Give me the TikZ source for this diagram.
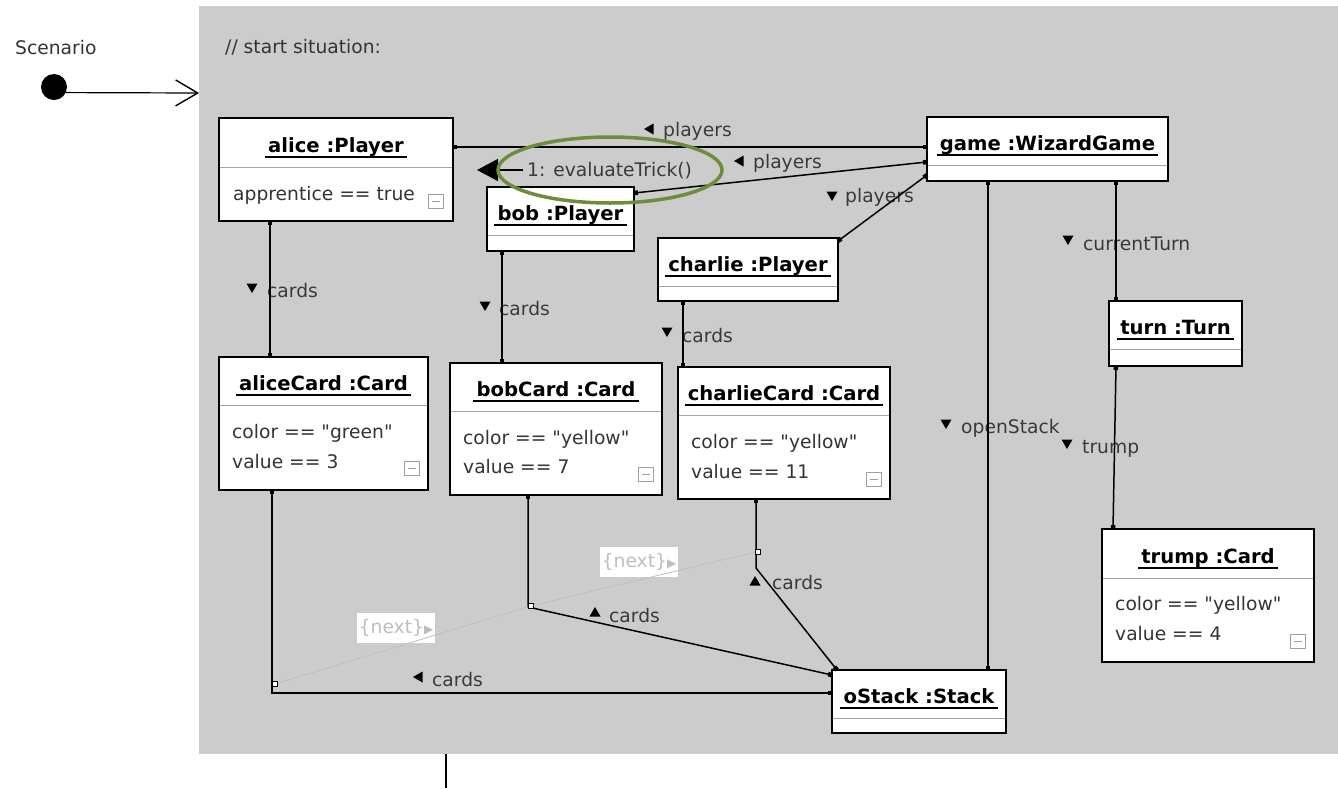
\documentclass[tikz,border=0pt]{standalone}
\usepackage{fontspec}
\setmainfont{DejaVu Sans}
\usetikzlibrary{arrows.meta}

\definecolor{framegray}{RGB}{204,204,204}
\definecolor{attrgray}{RGB}{52,52,52}
\definecolor{lblgray}{RGB}{58,58,58}
\definecolor{divgray}{RGB}{165,165,165}
\definecolor{icongray}{RGB}{160,160,160}
\definecolor{nextgray}{RGB}{190,190,190}
\definecolor{msggreen}{RGB}{110,140,60}

\tikzset{
  objframe/.style={draw=black, line width=1.6pt, fill=white, inner sep=0pt, outer sep=0pt, anchor=north west},
  divline/.style={draw=divgray, line width=0.9pt},
  objtitle/.style={font=\fontsize{19.6}{22}\selectfont\bfseries, anchor=base, inner xsep=3pt, inner ysep=0pt, text=black},
  uline/.style={line width=1.6pt},
  attr/.style={anchor=base west, inner sep=0pt, text=attrgray},
  lbl/.style={anchor=base west, inner sep=0pt, text=lblgray},
  link/.style={line width=1.5pt, {Square[length=4pt,width=4.5pt]}-{Square[length=4pt,width=4.5pt]}},
  nextlink/.style={draw=nextgray, line width=0.8pt},
  nextbox/.style={fill=white, text=nextgray, inner sep=0pt, minimum width=78pt, minimum height=30pt},
  joint/.style={draw=black, fill=white, line width=0.8pt, minimum size=5pt, inner sep=0pt},
  icon/.style={draw=icongray, line width=0.9pt},
}

% object box: name, left, top, right, bottom, divider y, title
\newcommand\umlobject[7]{%
  \node[objframe, minimum width={(#4-#2)*1pt}, minimum height={(#5-#3)*1pt}] (#1) at (#2,#3) {};
  \draw[divline] ({#2+1},#6) -- ({#4-1},#6);
  \node[objtitle] (#1-title) at ({(#2+#4)/2},{#6-15}) {#7};
  \draw[uline] ([yshift=-5pt]#1-title.base west) -- ([yshift=-5pt]#1-title.base east);
}
% collapse handle in the corner of an object box
\newcommand\collapser[2]{%
  \draw[icon] ({#1-7.5},{#2-7}) rectangle ({#1+7.5},{#2+7});
  \draw[icon] ({#1-4},#2) -- ({#1+4},#2);
}
% reading-direction triangles of role labels
\newcommand\roletridown[2]{\fill ({#1-5.5},{#2-4.5}) -- ({#1+5.5},{#2-4.5}) -- (#1,{#2+5}) -- cycle;}
\newcommand\roletriup[2]{\fill ({#1-5.5},{#2+4.5}) -- ({#1+5.5},{#2+4.5}) -- (#1,{#2-5}) -- cycle;}
\newcommand\roletrileft[2]{\fill ({#1+4.5},{#2-5.5}) -- ({#1+4.5},{#2+5.5}) -- ({#1-5},#2) -- cycle;}
\newcommand\qq[1]{\textquotedbl#1\textquotedbl}

\begin{document}
\begin{tikzpicture}[x=1pt, y=-1pt, every node/.style={font=\fontsize{18.7}{22}\selectfont}]
\useasboundingbox (0,0) rectangle (1338,788);

% activity frame
\node[fill=framegray, inner sep=0pt, outer sep=0pt, minimum width=1139pt, minimum height=748pt, anchor=north west] (situation) at (199,6) {};
\node[lbl, text=attrgray] (comment) at (225,53) {// start situation:};

% initial node
\node[lbl, text=attrgray] (scenario) at (15,54) {Scenario};
\node[circle, fill=black, minimum size=26pt, inner sep=0pt] (start) at (54,87) {};
\draw[line width=1.2pt, -{Straight Barb[length=22pt,width=26pt,line width=1.4pt]}] (start.-25) -- (situation.west |- 0,93);
\coordinate (exit) at (446,788);
\draw[line width=1.5pt] (situation.south -| exit) -- (exit);

% objects
\umlobject{alice}{219}{118}{453}{221}{167}{alice :Player}
\umlobject{bob}{487}{187}{634}{251}{235}{bob :Player}
\umlobject{charlie}{658}{238}{838}{301}{286}{charlie :Player}
\umlobject{game}{927}{117}{1168}{181}{165}{game :WizardGame}
\umlobject{turn}{1109}{301}{1242}{366}{349}{turn :Turn}
\umlobject{aliceCard}{219}{357}{428}{490}{405}{aliceCard :Card}
\umlobject{bobCard}{450}{363}{662}{495}{411}{bobCard :Card}
\umlobject{charlieCard}{678}{367}{890}{499}{415}{charlieCard :Card}
\umlobject{trump}{1102}{529}{1314}{662}{578}{trump :Card}
\umlobject{oStack}{832}{670}{1006}{733}{718}{oStack :Stack}

% attributes
\node[attr] at (233,200) {apprentice == true};
\node[attr] at (232,438) {color == \qq{green}};
\node[attr] at (232,468) {value == 3};
\node[attr] at (463,444) {color == \qq{yellow}};
\node[attr] at (463,473) {value == 7};
\node[attr] at (691,448) {color == \qq{yellow}};
\node[attr] at (691,478) {value == 11};
\node[attr] at (1115,610) {color == \qq{yellow}};
\node[attr] at (1115,640) {value == 4};

\collapser{436}{201}
\collapser{412}{468}
\collapser{646}{474}
\collapser{874}{479}
\collapser{1298}{641}

% role labels
\roletrileft{649}{129}  \node[lbl] at (663,136) {players};
\roletrileft{739}{161}  \node[lbl] at (753,168) {players};
\roletridown{832}{196}  \node[lbl] at (845,202) {players};
\roletridown{252}{288}  \node[lbl] at (267,297) {cards};
\roletridown{485}{306}  \node[lbl] at (499,315) {cards};
\roletridown{667}{332}  \node[lbl] at (682,342) {cards};
\roletridown{1068}{240} \node[lbl] at (1083,250) {currentTurn};
\roletridown{946}{424}  \node[lbl] at (961,433) {openStack};
\roletridown{1067}{444} \node[lbl] at (1082,453) {trump};
\roletriup{595}{612}    \node[lbl] at (609,622) {cards};
\roletriup{755}{581}    \node[lbl] at (772,589) {cards};
\roletrileft{418}{677}  \node[lbl] at (432,686) {cards};

% links
\draw[link] (alice.east |- 0,147) -- (game.west |- 0,147);
\draw[link] (bob.east |- 0,193) -- (game.west |- 0,162);
\draw[link] (charlie.east |- 0,241) -- (game.west |- 0,175);
\draw[link] (alice.south -| 270,0) -- (aliceCard.north -| 270,0);
\draw[link] (bob.south -| 502,0) -- (bobCard.north -| 502,0);
\draw[link] (charlie.south -| 683,0) -- (charlieCard.north -| 683,0);
\draw[link] (game.south -| 1116,0) -- (turn.north -| 1116,0);
\draw[link] (turn.south -| 1116,0) -- (trump.north -| 1113,0);
\draw[link] (game.south -| 988,0) -- (oStack.north -| 988,0);
\draw[link] (aliceCard.south -| 272,0) -- (272,693) -- (oStack.west |- 0,693);
\draw[link] (bobCard.south -| 528,0) -- (528,607) -- (oStack.west |- 0,675);
\draw[link] (charlieCard.south -| 756,0) -- (756,568) -- (oStack.north -| 837,0);

% ordering of the cards on the stack
\node[nextbox] (next1) at (396,628) {\{next\}{\fontsize{12}{12}\selectfont ▶}};
\node[nextbox] (next2) at (639,562) {\{next\}{\fontsize{12}{12}\selectfont ▶}};
\node[joint] (j1) at (275,684) {};
\node[joint] (j2) at (530.5,606) {};
\node[joint] (j3) at (757.5,551.5) {};
\draw[nextlink] (j1) -- (j2);
\draw[nextlink] (j2) -- (j3);

% message
\node[lbl] (msg) at (527,176) {1: evaluateTrick()};
\coordinate (msgtip) at (477,170);
\draw[line width=1.5pt, shorten <=4pt, -{Triangle[length=21pt,width=22pt]}] (msg.west |- msgtip) -- (msgtip);
\draw[msggreen, line width=3.5pt] (610,170) ellipse [x radius=112pt, y radius=33pt];
\end{tikzpicture}
\end{document}
